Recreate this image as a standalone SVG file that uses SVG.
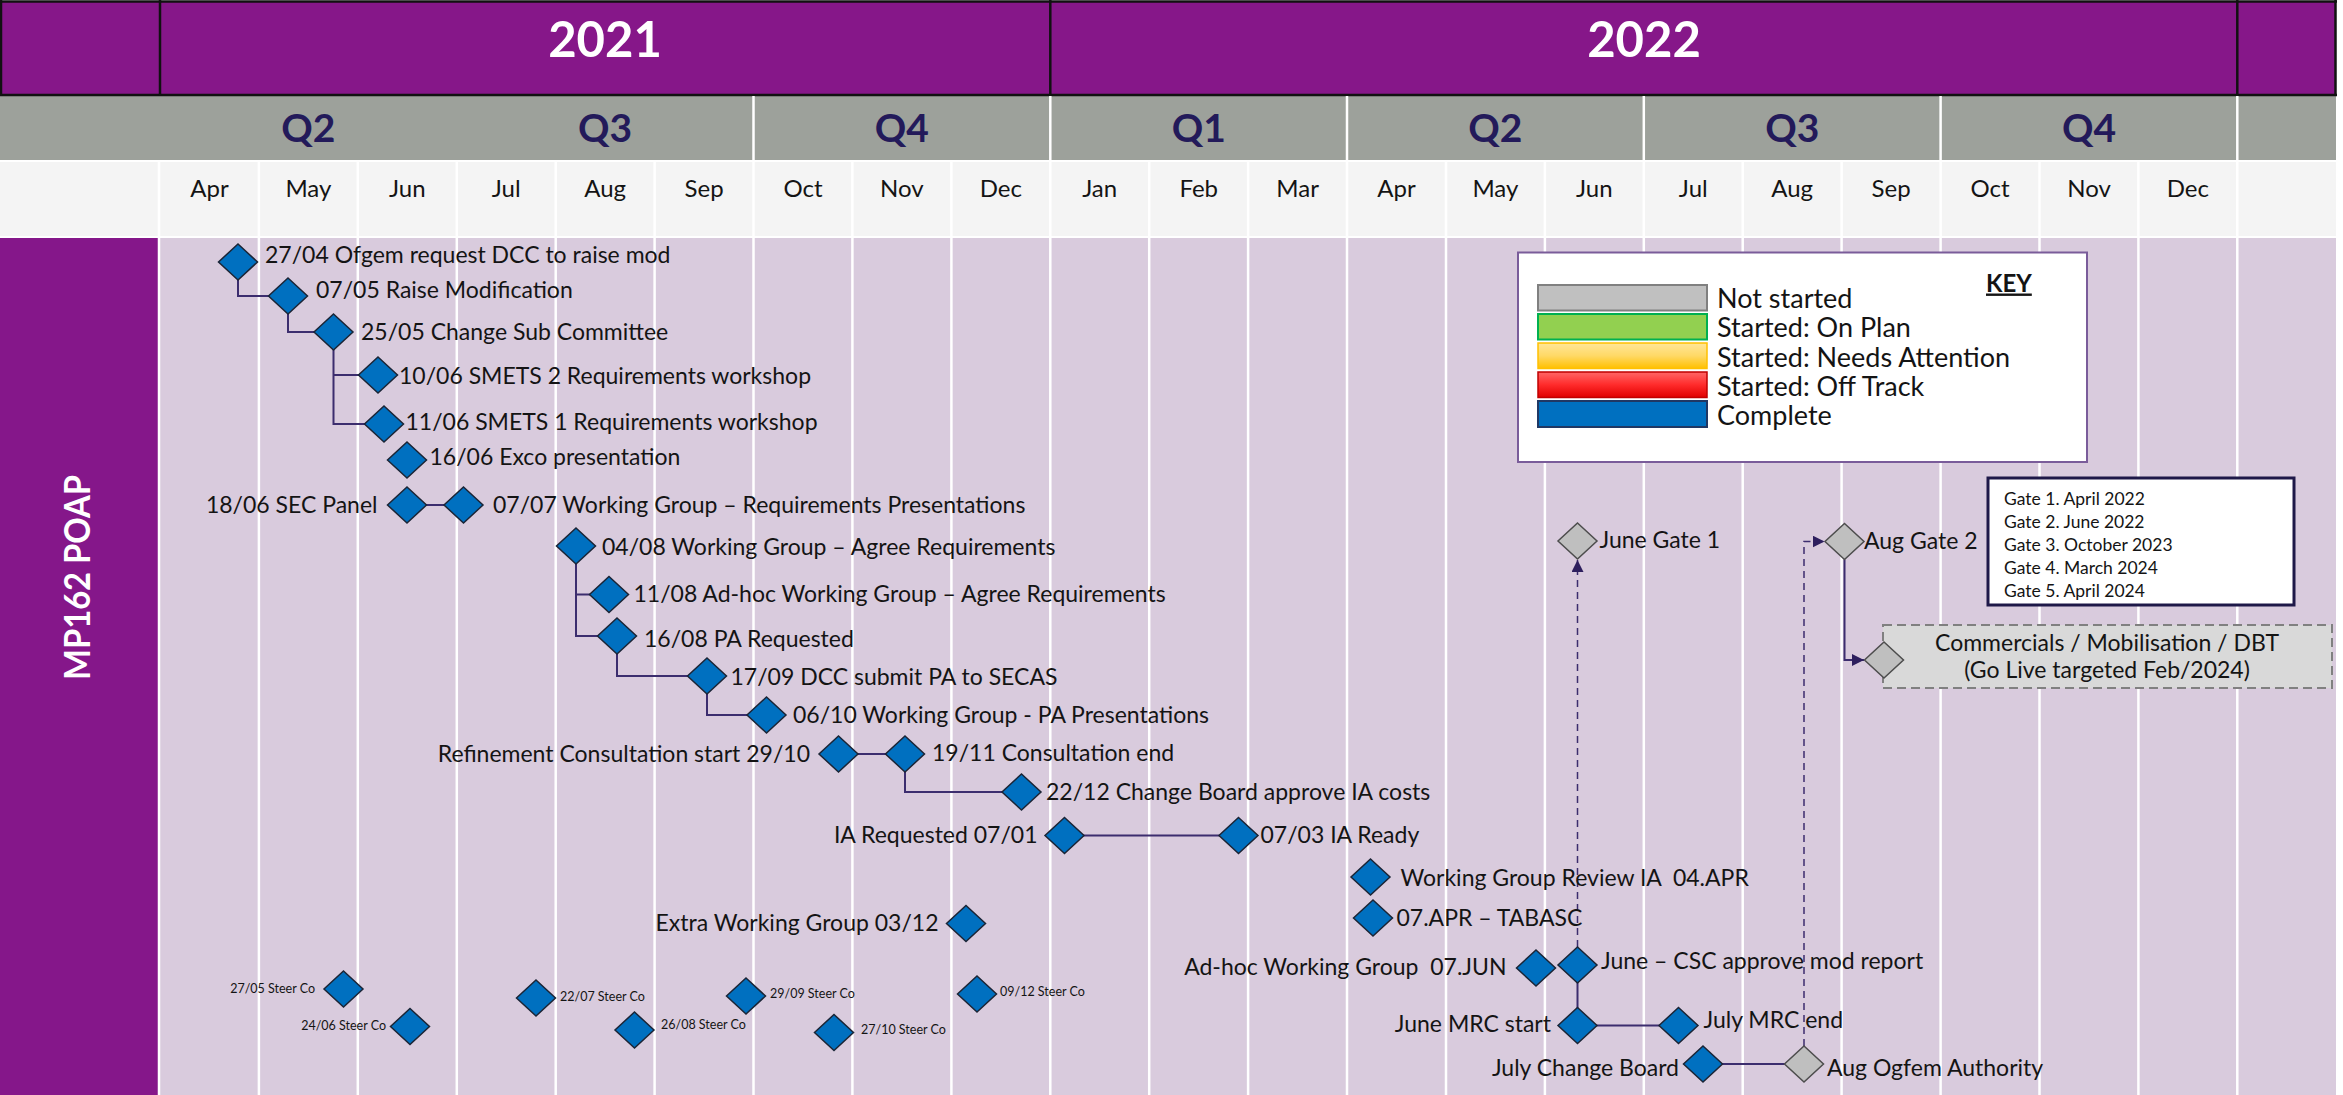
<svg xmlns="http://www.w3.org/2000/svg" xmlns:xlink="http://www.w3.org/1999/xlink" width="2343" height="1095" viewBox="0 0 2343 1095">
<style>
.t{font-family:Lato,"Liberation Sans",sans-serif;font-size:23px;fill:#141414}
.sm{font-size:12.5px}
.e{text-anchor:end}
.yr{font-family:Lato,"Liberation Sans",sans-serif;font-weight:bold;font-size:49px;fill:#fff;text-anchor:middle}
.q{font-family:Lato,"Liberation Sans",sans-serif;font-weight:bold;font-size:39px;fill:#231A5A;text-anchor:middle}
.m{font-family:Lato,"Liberation Sans",sans-serif;font-size:24px;fill:#141414;text-anchor:middle}
.blue{fill:#0070C0;stroke:#1B2536;stroke-width:1.5}
.grey{fill:#BFBFBF;stroke:#4D4D4D;stroke-width:1.5}
.con{fill:none;stroke:#3C2D6E;stroke-width:2}
.dash{fill:none;stroke:#3C2D6E;stroke-width:1.5;stroke-dasharray:7 5}
.wl{stroke:#FFFFFF;stroke-width:2.5}
.bl{stroke:#111;stroke-width:2.5}
.g{font-family:Lato,"Liberation Sans",sans-serif;font-size:17.5px;fill:#141414}
.k{font-family:Lato,"Liberation Sans",sans-serif;font-size:27px;fill:#141414}
</style>
<defs>
<path id="dia" d="M0,-18 L19.5,0 L0,18 L-19.5,0 Z"/>
<marker id="arr" viewBox="0 0 10 10" refX="10" refY="5" markerUnits="userSpaceOnUse" markerWidth="12" markerHeight="12" orient="auto">
<path d="M0,0 L10,5 L0,10 Z" fill="#2E1F5E"/>
</marker>
<linearGradient id="yel" x1="0" y1="0" x2="0" y2="1"><stop offset="0" stop-color="#FFE699"/><stop offset="0.5" stop-color="#FFD966"/><stop offset="1" stop-color="#FFC000"/></linearGradient>
<linearGradient id="red" x1="0" y1="0" x2="0" y2="1"><stop offset="0" stop-color="#FF6666"/><stop offset="0.5" stop-color="#FF2B2B"/><stop offset="1" stop-color="#E00000"/></linearGradient>
</defs>

<!-- background / header -->
<g id="header">
<rect x="0" y="0" width="2343" height="1095" fill="#FFFFFF"/>
<rect x="1" y="1.5" width="2335" height="93.5" fill="#861789"/>
<rect x="0" y="96" width="2336" height="64" fill="#9DA19B"/>
<rect x="0" y="162" width="2336" height="74" fill="#F4F4F4"/>
<rect x="160" y="238" width="2176" height="857" fill="#D9CBDD"/>
<rect x="0" y="238" width="158" height="857" fill="#85178A"/>
<line class="bl" x1="0" y1="1.5" x2="2337" y2="1.5"/>
<line class="bl" x1="0" y1="95" x2="2337" y2="95"/>
<line class="bl" x1="1" y1="0" x2="1" y2="96"/>
<line class="bl" x1="160" y1="0" x2="160" y2="96"/>
<line class="bl" x1="1050.3" y1="0" x2="1050.3" y2="96"/>
<line class="bl" x1="2237.3" y1="0" x2="2237.3" y2="96"/>
<line class="bl" x1="2335.5" y1="0" x2="2335.5" y2="96"/>
<g class="wl">
<line x1="753.5" y1="96" x2="753.5" y2="160"/>
<line x1="1050.3" y1="96" x2="1050.3" y2="160"/>
<line x1="1347" y1="96" x2="1347" y2="160"/>
<line x1="1643.8" y1="96" x2="1643.8" y2="160"/>
<line x1="1940.6" y1="96" x2="1940.6" y2="160"/>
<line x1="2237.3" y1="96" x2="2237.3" y2="160"/>
<line x1="159" y1="162" x2="159" y2="1095"/>
<line x1="258.9" y1="162" x2="258.9" y2="1095"/>
<line x1="357.8" y1="162" x2="357.8" y2="1095"/>
<line x1="456.8" y1="162" x2="456.8" y2="1095"/>
<line x1="555.7" y1="162" x2="555.7" y2="1095"/>
<line x1="654.6" y1="162" x2="654.6" y2="1095"/>
<line x1="753.5" y1="162" x2="753.5" y2="1095"/>
<line x1="852.4" y1="162" x2="852.4" y2="1095"/>
<line x1="951.4" y1="162" x2="951.4" y2="1095"/>
<line x1="1050.3" y1="162" x2="1050.3" y2="1095"/>
<line x1="1149.2" y1="162" x2="1149.2" y2="1095"/>
<line x1="1248.1" y1="162" x2="1248.1" y2="1095"/>
<line x1="1347" y1="162" x2="1347" y2="1095"/>
<line x1="1446" y1="162" x2="1446" y2="1095"/>
<line x1="1544.9" y1="162" x2="1544.9" y2="1095"/>
<line x1="1643.8" y1="162" x2="1643.8" y2="1095"/>
<line x1="1742.7" y1="162" x2="1742.7" y2="1095"/>
<line x1="1841.6" y1="162" x2="1841.6" y2="1095"/>
<line x1="1940.6" y1="162" x2="1940.6" y2="1095"/>
<line x1="2039.5" y1="162" x2="2039.5" y2="1095"/>
<line x1="2138.4" y1="162" x2="2138.4" y2="1095"/>
<line x1="2237.3" y1="162" x2="2237.3" y2="1095"/>
</g>
<text class="yr" x="605" y="57">2021</text>
<text class="yr" x="1644" y="57">2022</text>
<text class="q" x="308.4" y="142">Q2</text>
<text class="q" x="605.1" y="142">Q3</text>
<text class="q" x="901.9" y="142">Q4</text>
<text class="q" x="1198.7" y="142">Q1</text>
<text class="q" x="1495.4" y="142">Q2</text>
<text class="q" x="1792.2" y="142">Q3</text>
<text class="q" x="2089" y="142">Q4</text>
<text class="m" x="209.5" y="197">Apr</text>
<text class="m" x="308.4" y="197">May</text>
<text class="m" x="407.3" y="197">Jun</text>
<text class="m" x="506.2" y="197">Jul</text>
<text class="m" x="605.1" y="197">Aug</text>
<text class="m" x="704.1" y="197">Sep</text>
<text class="m" x="803" y="197">Oct</text>
<text class="m" x="901.9" y="197">Nov</text>
<text class="m" x="1000.8" y="197">Dec</text>
<text class="m" x="1099.7" y="197">Jan</text>
<text class="m" x="1198.7" y="197">Feb</text>
<text class="m" x="1297.6" y="197">Mar</text>
<text class="m" x="1396.5" y="197">Apr</text>
<text class="m" x="1495.4" y="197">May</text>
<text class="m" x="1594.3" y="197">Jun</text>
<text class="m" x="1693.3" y="197">Jul</text>
<text class="m" x="1792.2" y="197">Aug</text>
<text class="m" x="1891.1" y="197">Sep</text>
<text class="m" x="1990" y="197">Oct</text>
<text class="m" x="2089" y="197">Nov</text>
<text class="m" x="2187.9" y="197">Dec</text>
<text x="90" y="577.5" transform="rotate(-90 90 577.5)" text-anchor="middle" font-family="Lato, 'Liberation Sans', sans-serif" font-weight="bold" font-size="37" fill="#FFFFFF" textLength="205" lengthAdjust="spacingAndGlyphs">MP162 POAP</text>
</g>

<!-- key and gates -->
<g id="key">
<rect x="1518" y="252.5" width="569" height="209.5" fill="#FFFFFF" stroke="#7A5C9A" stroke-width="2"/>
<rect x="1538" y="285" width="169" height="25.5" fill="#C0C0C0" stroke="#808080" stroke-width="2"/>
<rect x="1538" y="314" width="169" height="25.5" fill="#92D050" stroke="#00B050" stroke-width="2"/>
<rect x="1538" y="343" width="169" height="25.5" fill="url(#yel)" stroke="#FFC000" stroke-width="1.5"/>
<rect x="1538" y="372" width="169" height="25.5" fill="url(#red)" stroke="#C00000" stroke-width="1.5"/>
<rect x="1538" y="401" width="169" height="26" fill="#0070C0" stroke="#203864" stroke-width="2"/>
<text class="k" x="1717" y="308">Not started</text>
<text class="k" x="1717" y="337">Started: On Plan</text>
<text class="k" x="1717" y="366.5">Started: Needs Attention</text>
<text class="k" x="1717" y="395.5">Started: Off Track</text>
<text class="k" x="1717" y="424.5">Complete</text>
<text x="1986" y="291.5" font-family="Lato, 'Liberation Sans', sans-serif" font-weight="bold" font-size="24" fill="#141414" text-decoration="underline">KEY</text>
</g>
<g id="gates">
<rect x="1988" y="478" width="306" height="127" fill="#FFFFFF" stroke="#1E1848" stroke-width="3"/>
<text class="g" x="2004" y="505">Gate 1. April 2022</text>
<text class="g" x="2004" y="528">Gate 2. June 2022</text>
<text class="g" x="2004" y="550.5">Gate 3. October 2023</text>
<text class="g" x="2004" y="573.5">Gate 4. March 2024</text>
<text class="g" x="2004" y="597">Gate 5. April 2024</text>
</g>

<!-- connectors -->
<g id="connectors">
<path class="con" d="M238,262 V296 H270"/>
<path class="con" d="M288,296 V332 H315"/>
<path class="con" d="M333.5,332 V424 H366 M333.5,375 H360"/>
<path class="con" d="M407,505 H464"/>
<path class="con" d="M576,546 V636 H599 M576,594.5 H591"/>
<path class="con" d="M617,636 V676 H690"/>
<path class="con" d="M707,676 V715 H749"/>
<path class="con" d="M838.5,754 H905"/>
<path class="con" d="M905,754 V792 H1004"/>
<path class="con" d="M1064.5,835.5 H1238.5"/>
<path class="con" d="M1577.5,965 V1025.5"/>
<path class="con" d="M1577.5,1025.5 H1678.5"/>
<path class="con" d="M1703,1064 H1804"/>
<path class="dash" d="M1577.5,947 V560" marker-end="url(#arr)"/>
<path class="dash" d="M1804,1046 V541.5 H1824.5" marker-end="url(#arr)"/>
<path class="con" d="M1844.5,559.5 V660 H1864" marker-end="url(#arr)"/>
</g>

<!-- nodes -->
<g id="n1"><use href="#dia" x="238" y="262" class="blue"/><text class="t" x="265" y="263">27/04 Ofgem request DCC to raise mod</text></g>
<g id="n2"><use href="#dia" x="288" y="296" class="blue"/><text class="t" x="316" y="298">07/05 Raise Modification</text></g>
<g id="n3"><use href="#dia" x="333.5" y="332" class="blue"/><text class="t" x="361" y="340">25/05 Change Sub Committee</text></g>
<g id="n4"><use href="#dia" x="378" y="375" class="blue"/><text class="t" x="399" y="384">10/06 SMETS 2 Requirements workshop</text></g>
<g id="n5"><use href="#dia" x="384" y="424" class="blue"/><text class="t" x="405.5" y="430">11/06 SMETS 1 Requirements workshop</text></g>
<g id="n6"><use href="#dia" x="407" y="460" class="blue"/><text class="t" x="429.5" y="465">16/06 Exco presentation</text></g>
<g id="n7"><use href="#dia" x="407" y="505" class="blue"/><text class="t e" x="377.5" y="513">18/06 SEC Panel</text></g>
<g id="n8"><use href="#dia" x="463.5" y="505" class="blue"/><text class="t" x="493" y="513">07/07 Working Group – Requirements Presentations</text></g>
<g id="n9"><use href="#dia" x="576" y="546" class="blue"/><text class="t" x="602" y="555">04/08 Working Group – Agree Requirements</text></g>
<g id="n10"><use href="#dia" x="609" y="594.5" class="blue"/><text class="t" x="633.5" y="602">11/08 Ad-hoc Working Group – Agree Requirements</text></g>
<g id="n11"><use href="#dia" x="617" y="636" class="blue"/><text class="t" x="644" y="646.5">16/08 PA Requested</text></g>
<g id="n12"><use href="#dia" x="707" y="676" class="blue"/><text class="t" x="730.5" y="685">17/09 DCC submit PA to SECAS</text></g>
<g id="n13"><use href="#dia" x="766.5" y="715" class="blue"/><text class="t" x="793" y="723">06/10 Working Group - PA Presentations</text></g>
<g id="n14"><use href="#dia" x="838.5" y="754" class="blue"/><text class="t e" x="810" y="762">Refinement Consultation start 29/10</text></g>
<g id="n15"><use href="#dia" x="905" y="754" class="blue"/><text class="t" x="932" y="761">19/11 Consultation end</text></g>
<g id="n16"><use href="#dia" x="1021.5" y="792" class="blue"/><text class="t" x="1046" y="800">22/12 Change Board approve IA costs</text></g>
<g id="n17"><use href="#dia" x="1064.5" y="835.5" class="blue"/><text class="t e" x="1037.5" y="843">IA Requested 07/01</text></g>
<g id="n18"><use href="#dia" x="1238.5" y="835.5" class="blue"/><text class="t" x="1260.5" y="843">07/03 IA Ready</text></g>
<g id="n19"><use href="#dia" x="1370.5" y="877" class="blue"/><text class="t" x="1400.5" y="886" xml:space="preserve">Working Group Review IA  04.APR</text></g>
<g id="n20"><use href="#dia" x="1373" y="918" class="blue"/><text class="t" x="1396.5" y="926">07.APR – TABASC</text></g>
<g id="n21"><use href="#dia" x="966" y="923.5" class="blue"/><text class="t e" x="938.5" y="931">Extra Working Group 03/12</text></g>
<g id="n22"><use href="#dia" x="1536" y="968" class="blue"/><text class="t e" x="1506.5" y="975" xml:space="preserve">Ad-hoc Working Group  07.JUN</text></g>
<g id="n23"><use href="#dia" x="1577.5" y="965" class="blue"/><text class="t" x="1601" y="969">June – CSC approve mod report</text></g>
<g id="n24"><use href="#dia" x="1577.5" y="1025.5" class="blue"/><text class="t e" x="1551" y="1032">June MRC start</text></g>
<g id="n25"><use href="#dia" x="1678.5" y="1025.5" class="blue"/><text class="t" x="1703.5" y="1028">July MRC end</text></g>
<g id="n26"><use href="#dia" x="1703" y="1064" class="blue"/><text class="t e" x="1679" y="1076">July Change Board</text></g>
<g id="n27"><use href="#dia" x="1804" y="1064" class="grey"/><text class="t" x="1827" y="1076">Aug Ogfem Authority</text></g>
<g id="n28"><use href="#dia" x="1577.5" y="541" class="grey"/><text class="t" x="1599.5" y="548">June Gate 1</text></g>
<g id="n29"><use href="#dia" x="1844.5" y="541.5" class="grey"/><text class="t" x="1864" y="549">Aug Gate 2</text></g>
<g id="n30">
<rect x="1883" y="625" width="449" height="63" fill="#D9D9D9" stroke="#808080" stroke-width="2" stroke-dasharray="9 5"/>
<use href="#dia" x="1884" y="660" class="grey"/>
<text class="t" x="2107" y="651" text-anchor="middle">Commercials / Mobilisation / DBT</text>
<text class="t" x="2107" y="678" text-anchor="middle">(Go Live targeted Feb/2024)</text>
</g>
<g id="n31"><use href="#dia" x="343.5" y="989" class="blue"/><text class="t sm e" x="315" y="993">27/05 Steer Co</text></g>
<g id="n32"><use href="#dia" x="410" y="1026.5" class="blue"/><text class="t sm e" x="386" y="1030">24/06 Steer Co</text></g>
<g id="n33"><use href="#dia" x="536" y="998" class="blue"/><text class="t sm" x="560" y="1001">22/07 Steer Co</text></g>
<g id="n34"><use href="#dia" x="634.5" y="1030" class="blue"/><text class="t sm" x="661" y="1029">26/08 Steer Co</text></g>
<g id="n35"><use href="#dia" x="746" y="996" class="blue"/><text class="t sm" x="770" y="998">29/09 Steer Co</text></g>
<g id="n36"><use href="#dia" x="834" y="1032.5" class="blue"/><text class="t sm" x="861" y="1034">27/10 Steer Co</text></g>
<g id="n37"><use href="#dia" x="977" y="994" class="blue"/><text class="t sm" x="1000" y="996">09/12 Steer Co</text></g>
</svg>
